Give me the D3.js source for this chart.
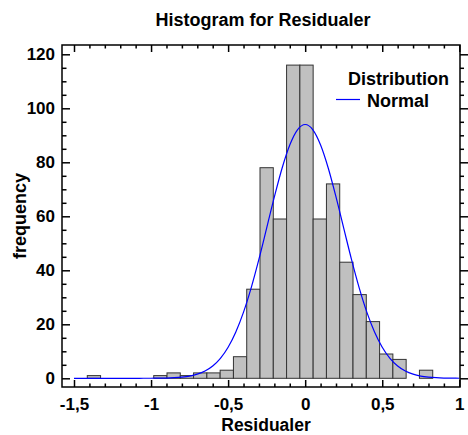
<!DOCTYPE html>
<html>
<head>
<meta charset="utf-8">
<script src="https://cdn.jsdelivr.net/npm/d3@7"></script>
<style>
  html, body { margin: 0; padding: 0; background: #fff; }
  svg { display: block; }
  text { font-family: "Liberation Sans", Arial, sans-serif; font-weight: bold; fill: #000; }
</style>
</head>
<body>
<svg id="chart" width="468" height="435"></svg>
<script>
// ---- data ----
const binStart = -1.5;
const binWidth = 2.5 / 29;
const binCounts = [0, 1, 0, 0, 0, 0, 1, 2, 1, 2, 2, 3, 8, 33, 78, 59, 116, 116, 59, 72, 43, 31, 21, 9, 7, 0, 3, 0, 0];

const curveX = [-1.5, -1.45, -1.4, -1.35, -1.3, -1.25, -1.2, -1.15, -1.1, -1.05,
  -1.0, -0.95, -0.9, -0.85, -0.8, -0.75, -0.7, -0.65, -0.6, -0.55,
  -0.5, -0.45, -0.4, -0.35, -0.3, -0.25, -0.2, -0.15, -0.1, -0.05,
  0, 0.05, 0.1, 0.15, 0.2, 0.25, 0.3, 0.35, 0.4, 0.45,
  0.5, 0.55, 0.6, 0.65, 0.7, 0.75, 0.8, 0.85, 0.9, 0.95, 1.0];
const curveY = [0, 0, 0, 0, 0, 0, 0, 0, 0, 0.01,
  0.02, 0.05, 0.10, 0.22, 0.44, 0.83, 1.53, 2.70, 4.57, 7.41,
  11.52, 17.17, 24.52, 33.60, 44.14, 55.61, 67.17, 77.81, 86.42, 92.04,
  94.0, 92.04, 86.42, 77.81, 67.17, 55.61, 44.14, 33.60, 24.52, 17.17,
  11.52, 7.41, 4.57, 2.70, 1.53, 0.83, 0.44, 0.22, 0.10, 0.05, 0.02];

const xTicks = [-1.5, -1, -0.5, 0, 0.5, 1];
const xTickLabels = ["-1,5", "-1", "-0,5", "0", "0,5", "1"];
const xMinorTicks = d3.range(-15, 11).map(d => d / 10).filter(d => !xTicks.some(t => Math.abs(t - d) < 1e-9));
const yTicks = [0, 20, 40, 60, 80, 100, 120];
const yTickLabels = ["0", "20", "40", "60", "80", "100", "120"];
const yMinorTicks = d3.range(0, 121, 5).filter(d => d % 20 !== 0);

const titleText = "Histogram for Residualer";
const xTitle = "Residualer";
const yTitle = "frequency";
const legendTitle = "Distribution";
const legendItem = "Normal";

// ---- layout ----
const frame = { left: 62, top: 45, right: 460, bottom: 387 };
const svg = d3.select("#chart");

const x = d3.scaleLinear().domain([-1.5, 1]).range([74, 459.3]);
const y = d3.scaleLinear().domain([0, 120]).range([378.3, 54.3]);

// bars
const bins = binCounts.map((c, i) => ({ x0: binStart + i * binWidth, x1: binStart + (i + 1) * binWidth, count: c }))
  .filter(d => d.count > 0);

svg.append("g").selectAll("rect").data(bins).join("rect")
  .attr("x", d => x(d.x0))
  .attr("y", d => y(d.count))
  .attr("width", d => x(d.x1) - x(d.x0))
  .attr("height", d => y(0) - y(d.count))
  .attr("fill", "#c0c0c0")
  .attr("stroke", "#333")
  .attr("stroke-width", 1);

// normal curve
const line = d3.line().x(d => x(d[0])).y(d => y(d[1])).curve(d3.curveMonotoneX);
svg.append("path")
  .datum(curveX.map((v, i) => [v, curveY[i]]))
  .attr("d", line)
  .attr("fill", "none")
  .attr("stroke", "#0000ff")
  .attr("stroke-width", 1.2);

// frame
svg.append("rect")
  .attr("x", frame.left).attr("y", frame.top)
  .attr("width", frame.right - frame.left).attr("height", frame.bottom - frame.top)
  .attr("fill", "none").attr("stroke", "#000").attr("stroke-width", 1.5);

function styleAxis(g) {
  g.select(".domain").remove();
  g.selectAll("line").attr("stroke", "#000").attr("stroke-width", 1.5);
  g.selectAll("text").attr("font-size", 17).attr("font-family", "Liberation Sans, Arial, sans-serif").attr("font-weight", "bold");
}

// bottom axis (ticks inward)
svg.append("g").attr("transform", `translate(0,${frame.bottom})`)
  .call(d3.axisBottom(x).tickValues(xTicks).tickFormat((d, i) => xTickLabels[i]).tickSize(-7).tickPadding(11))
  .call(styleAxis);
svg.append("g").attr("transform", `translate(0,${frame.bottom})`)
  .call(d3.axisBottom(x).tickValues(xMinorTicks).tickFormat("").tickSize(-3.5))
  .call(styleAxis);
// top axis
svg.append("g").attr("transform", `translate(0,${frame.top})`)
  .call(d3.axisTop(x).tickValues(xTicks).tickFormat("").tickSize(-7))
  .call(styleAxis);
svg.append("g").attr("transform", `translate(0,${frame.top})`)
  .call(d3.axisTop(x).tickValues(xMinorTicks).tickFormat("").tickSize(-3.5))
  .call(styleAxis);
// left axis
svg.append("g").attr("transform", `translate(${frame.left},0)`)
  .call(d3.axisLeft(y).tickValues(yTicks).tickFormat((d, i) => yTickLabels[i]).tickSize(-8).tickPadding(7))
  .call(styleAxis);
svg.append("g").attr("transform", `translate(${frame.left},0)`)
  .call(d3.axisLeft(y).tickValues(yMinorTicks).tickFormat("").tickSize(-4.5))
  .call(styleAxis);
// right axis (ticks outward)
svg.append("g").attr("transform", `translate(${frame.right},0)`)
  .call(d3.axisRight(y).tickValues(yTicks).tickFormat("").tickSize(8))
  .call(styleAxis);
svg.append("g").attr("transform", `translate(${frame.right},0)`)
  .call(d3.axisRight(y).tickValues(yMinorTicks).tickFormat("").tickSize(4))
  .call(styleAxis);

// titles
svg.append("text").attr("x", 263).attr("y", 26).attr("text-anchor", "middle").attr("font-size", 18).text(titleText);
svg.append("text").attr("x", 266).attr("y", 431).attr("text-anchor", "middle").attr("font-size", 17.5).text(xTitle);
svg.append("text").attr("transform", "translate(26,216) rotate(-90)").attr("text-anchor", "middle").attr("font-size", 18).text(yTitle);

// legend
svg.append("text").attr("x", 348).attr("y", 85).attr("font-size", 18).text(legendTitle);
svg.append("line").attr("x1", 336).attr("x2", 360).attr("y1", 99.5).attr("y2", 99.5).attr("stroke", "#0000ff").attr("stroke-width", 1.2);
svg.append("text").attr("x", 367).attr("y", 106.5).attr("font-size", 18).text(legendItem);
</script>
</body>
</html>
